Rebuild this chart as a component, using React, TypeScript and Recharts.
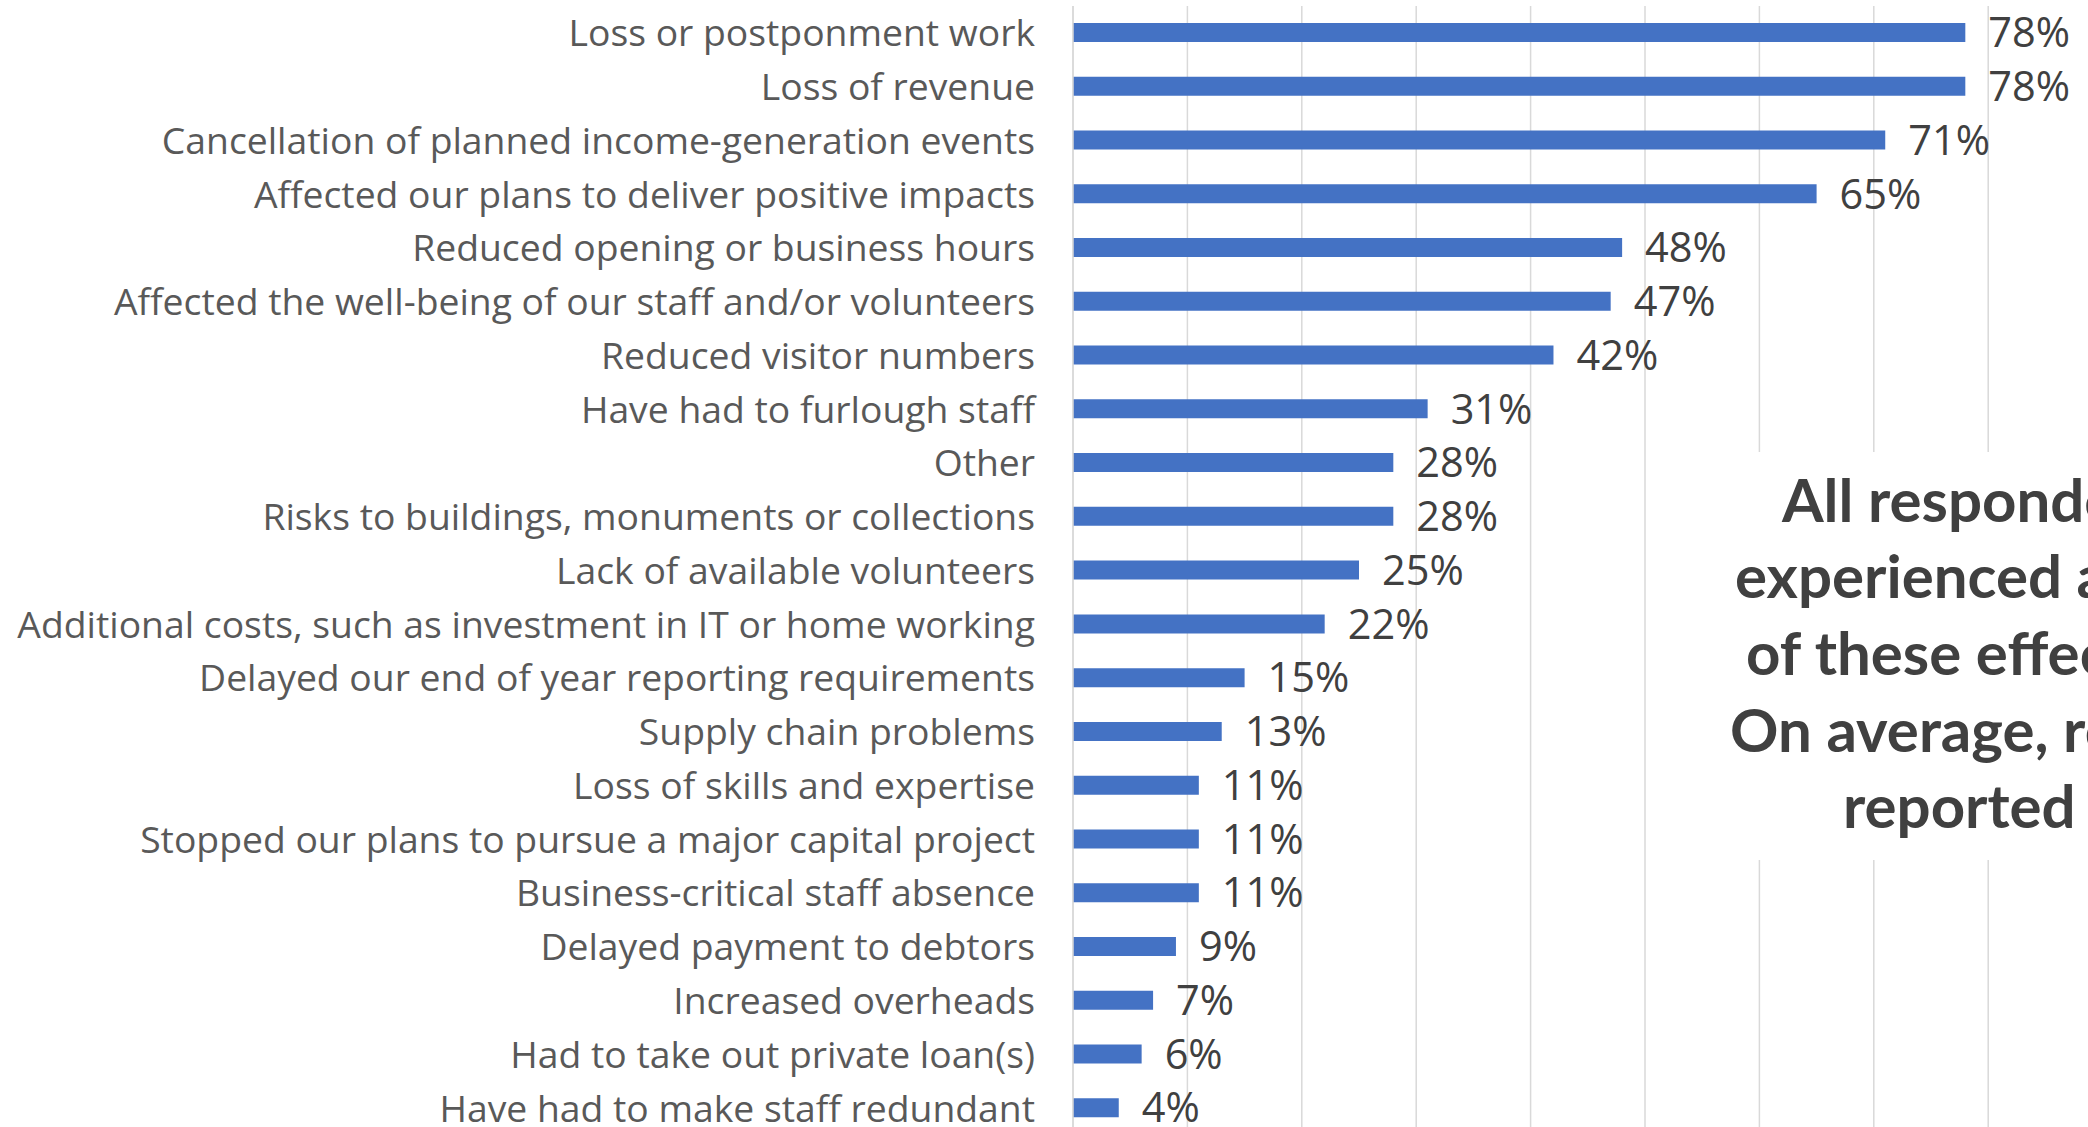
import React from "react";
import { BarChart, Bar, XAxis, YAxis, CartesianGrid, LabelList } from "recharts";

const categories = [
  "Loss or postponment work",
  "Loss of revenue",
  "Cancellation of planned income-generation events",
  "Affected our plans to deliver positive impacts",
  "Reduced opening or business hours",
  "Affected the well-being of our staff and/or volunteers",
  "Reduced visitor numbers",
  "Have had to furlough staff",
  "Other",
  "Risks to buildings, monuments or collections",
  "Lack of available volunteers",
  "Additional costs, such as investment in IT or home working",
  "Delayed our end of year reporting requirements",
  "Supply chain problems",
  "Loss of skills and expertise",
  "Stopped our plans to pursue a major capital project",
  "Business-critical staff absence",
  "Delayed payment to debtors",
  "Increased overheads",
  "Had to take out private loan(s)",
  "Have had to make staff redundant",
];

const shares = [
  0.78, 0.78, 0.71, 0.65, 0.48, 0.47, 0.42, 0.31, 0.28, 0.28, 0.25,
  0.22, 0.15, 0.13, 0.11, 0.11, 0.11, 0.09, 0.07, 0.06, 0.04,
];

const xTicks = [0, 0.1, 0.2, 0.3, 0.4, 0.5, 0.6, 0.7, 0.8, 0.9, 1];

const noteLines = [
  { text: "All respondents", x: 1782, y: 522 },
  { text: "experienced at least one", x: 1735, y: 598 },
  { text: "of these effects.", x: 1746, y: 675 },
  { text: "On average, respondents", x: 1730, y: 752 },
  { text: "reported", x: 1843, y: 828 },
];

const data = categories.map((name, i) => ({ name, share: shares[i] }));

const LABEL_FONT = "'Open Sans', Lato, sans-serif";
const NOTE_FONT = "Lato, 'Open Sans', sans-serif";

function CategoryTick(props: any) {
  const { x, y, payload } = props;
  return (
    <text x={x} y={y} dy="0.36em" textAnchor="end" fontSize={37.3} fill="#595959" fontFamily={LABEL_FONT}>
      {payload.value}
    </text>
  );
}

export default function App() {
  return (
    <div
      style={{
        position: "absolute",
        left: 0,
        top: 0,
        width: 2088,
        height: 1127,
        overflow: "hidden",
        background: "#ffffff",
      }}
    >
      <BarChart
        layout="vertical"
        width={2217}
        height={1135}
        data={data}
        margin={{ top: 6, right: 0, bottom: 0, left: 0 }}
      >
        <CartesianGrid horizontal={false} stroke="#d9d9d9" strokeWidth={1.5} />
        <XAxis type="number" domain={[0, 1]} ticks={xTicks} hide />
        <YAxis
          type="category"
          dataKey="name"
          width={1073}
          interval={0}
          tickSize={0}
          tickMargin={38}
          tickLine={false}
          axisLine={{ stroke: "#d9d9d9", strokeWidth: 1.5 }}
          tick={<CategoryTick />}
        />
        <Bar dataKey="share" fill="#4472c4" barSize={19} isAnimationActive={false}>
          <LabelList
            dataKey="share"
            position="right"
            offset={23}
            fontSize={41.5}
            fill="#404040"
            fontFamily={LABEL_FONT}
            formatter={(v: any) => `${Math.round(Number(v) * 100)}%`}
          />
        </Bar>
      </BarChart>
      <svg
        width={2088}
        height={1127}
        style={{ position: "absolute", left: 0, top: 0, pointerEvents: "none" }}
      >
        <rect x={1700} y={452} width={388} height={408} fill="#ffffff" />
        {noteLines.map((line) => (
          <text
            key={line.text}
            x={line.x}
            y={line.y}
            fontSize={60}
            fontWeight={700}
            fill="#404040"
            fontFamily={NOTE_FONT}
          >
            {line.text}
          </text>
        ))}
      </svg>
    </div>
  );
}
